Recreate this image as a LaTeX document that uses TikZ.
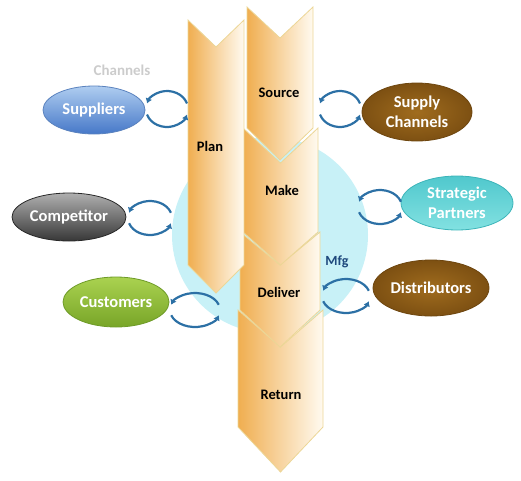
\documentclass[tikz,border=0pt]{standalone}
\usepackage{fontspec}
\setmainfont{Carlito}
\usetikzlibrary{shapes.geometric,arrows.meta}
\definecolor{chevL}{RGB}{240,174,80}
\definecolor{chevR}{RGB}{255,250,240}
\definecolor{chevE}{RGB}{236,214,150}
\definecolor{hub}{RGB}{200,241,247}
\definecolor{cyc}{RGB}{44,112,165}
\definecolor{mfg}{RGB}{31,73,125}
\newcommand{\mychev}[6]{%
  \path[chevbox] (#1,#3) -- ({(#1+#2)/2},#4) -- (#2,#3) -- (#2,#5) -- ({(#1+#2)/2},#6) -- (#1,#5) -- cycle;}
\newcommand{\mycyc}[3]{%
  \draw[cycarrow] (#1) ++({#2*cos(-18)},{#3*sin(-18)}) arc[start angle=-18, end angle=-162, x radius=#2, y radius=#3];
  \draw[cycarrow] (#1) ++({#2*cos(162)},{#3*sin(162)}) arc[start angle=162, end angle=18, x radius=#2, y radius=#3];}
\tikzset{
  chevbox/.style={draw=chevE, line width=0.8pt, left color=chevL, right color=chevR},
  chevtext/.style={font=\bfseries\fontsize{14.5}{17}\selectfont, text=black},
  party/.style={ellipse, inner sep=0pt, line width=0.8pt, align=center,
    font=\bfseries\fontsize{16.5}{20}\selectfont, text=white},
  cycarrow/.style={draw=cyc, line width=2.2pt, -{Latex[length=5pt,width=7pt]}},
}
\begin{document}
\begin{tikzpicture}[x=1pt,y=-1pt]
\useasboundingbox (0,0) rectangle (521,480);
% hub circle
\fill[hub] (270,235) circle[radius=98];
% chevrons
\mychev{238}{323}{310}{347}{427}{472}
\mychev{240}{320}{232}{265}{310}{347}
\mychev{247}{313}{7}{38}{128}{160}
\mychev{243}{318}{128}{163}{232}{265}
\mychev{188}{244}{20}{47}{265}{293}
\node[chevtext] (plan) at (210,146) {Plan};
\node[chevtext] (source) at (279,93) {Source};
\node[chevtext] (make) at (282,190) {Make};
\node[chevtext] (deliver) at (279,292) {Deliver};
\node[chevtext] (return) at (281,395) {Return};
\node[font=\bfseries\fontsize{14}{17}\selectfont, text=mfg] (mfgl) at (337,262) {Mfg};
\node[font=\bfseries\fontsize{15}{18}\selectfont, text=gray!40] (chan) at (122,70) {Channels};
% parties
\node[party, minimum width=102pt, minimum height=48pt, draw={rgb,255:red,90;green,130;blue,190},
  top color={rgb,255:red,175;green,205;blue,240}, bottom color={rgb,255:red,70;green,120;blue,200}] (sup) at (94,110) {Suppliers};
\node[party, minimum width=110pt, minimum height=58pt, draw={rgb,255:red,110;green,70;blue,15},
  inner color={rgb,255:red,160;green,108;blue,30}, outer color={rgb,255:red,125;green,80;blue,18}] (sch) at (417,112) {Supply\\Channels};
\node[party, minimum width=114pt, minimum height=48pt, draw={rgb,255:red,40;green,40;blue,40},
  top color={rgb,255:red,175;green,175;blue,175}, bottom color={rgb,255:red,55;green,55;blue,55}] (comp) at (69,217) {Competitor};
\node[party, minimum width=112pt, minimum height=54pt, draw={rgb,255:red,60;green,180;blue,185},
  top color={rgb,255:red,80;green,200;blue,205}, bottom color={rgb,255:red,130;green,225;blue,225}] (strat) at (457,203) {Strategic\\Partners};
\node[party, minimum width=106pt, minimum height=50pt, draw={rgb,255:red,110;green,155;blue,40},
  top color={rgb,255:red,170;green,210;blue,80}, bottom color={rgb,255:red,120;green,165;blue,40}] (cust) at (116,302) {Customers};
\node[party, minimum width=116pt, minimum height=56pt, draw={rgb,255:red,110;green,70;blue,15},
  inner color={rgb,255:red,160;green,108;blue,30}, outer color={rgb,255:red,125;green,80;blue,18}] (dist) at (431,288) {Distributors};
% cycle arrows
\coordinate (c1) at (167,109);
\coordinate (c2) at (340,109);
\coordinate (c3) at (150,218);
\coordinate (c4) at (380,207);
\coordinate (c5) at (195,310);
\coordinate (c6) at (346,296);
\mycyc{c1}{21}{18}
\mycyc{c2}{21}{18}
\mycyc{c3}{22}{17}
\mycyc{c4}{22}{17}
\mycyc{c5}{25}{17}
\mycyc{c6}{24}{17}
\end{tikzpicture}
\end{document}
